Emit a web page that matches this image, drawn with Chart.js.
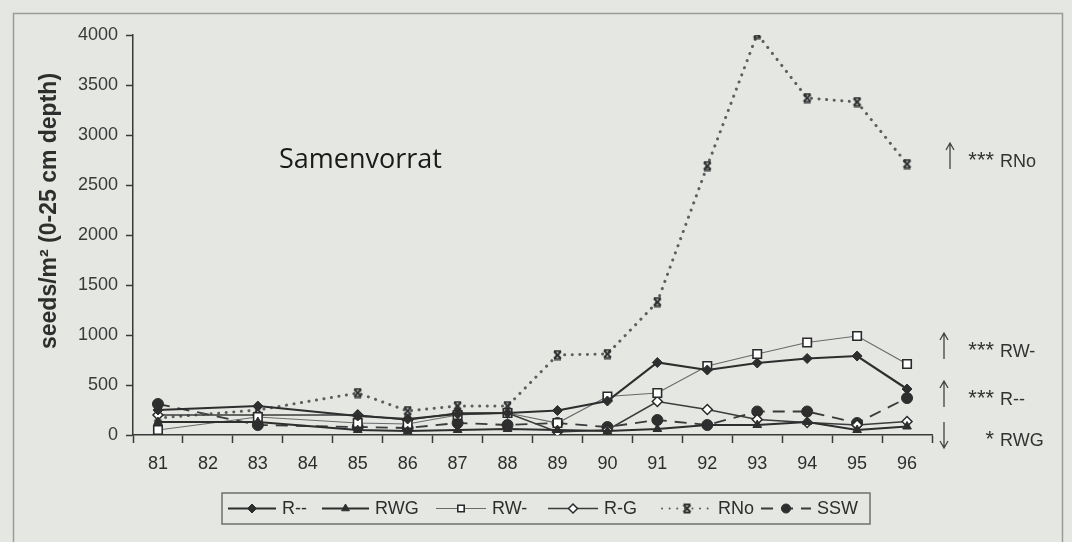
<!DOCTYPE html>
<html>
<head>
<meta charset="utf-8">
<script src="https://cdn.jsdelivr.net/npm/chart.js"></script>
<style>
  html, body { margin: 0; padding: 0; background: #e4e7e2; }
  #grafico { display: block; }
</style>
</head>
<body>
<canvas id="grafico" width="1072" height="542"></canvas>
<script>
// anos de amostragem (82 e 84 sem coleta)
const years = ['81', '82', '83', '84', '85', '86', '87', '88', '89', '90', '91', '92', '93', '94', '95', '96'];

const seriesR = [250, null, 290, null, 190, 160, 210, 220, 245, 340, 725, 650, 720, 765, 790, 460];
const seriesRWG = [130, null, 130, null, 50, 40, 50, 60, 50, 40, 60, 100, 100, 130, 50, 85];
const seriesRW = [50, null, 180, null, 120, 110, 200, 220, 120, 385, 420, 690, 810, 925, 990, 710];
const seriesRG = [200, null, 200, null, 200, 150, 220, 220, 30, 50, 335, 255, 155, 125, 100, 135];
const seriesRNo = [170, null, 250, null, 420, 240, 290, 290, 800, 810, 1330, 2690, 4010, 3370, 3330, 2710];
const seriesSSW = [310, null, 100, null, 80, 70, 120, 100, 120, 80, 150, 100, 235, 235, 120, 370];

const yTicksMax = 4000;
const yTicksStep = 500;

const fontSans = '"Liberation Sans", Arial, sans-serif';
const ink = '#2e2e2e';

// marcador do RNo: um "x" com barrinhas em cima e embaixo
function makeRNoMarker() {
  let c = document.createElement('canvas');
  c.width = 11;
  c.height = 11;
  let g = c.getContext('2d');
  g.strokeStyle = '#303030';
  g.lineWidth = 2;
  g.beginPath();
  g.moveTo(2, 2); g.lineTo(9, 9);
  g.moveTo(9, 2); g.lineTo(2, 9);
  g.moveTo(2, 1.5); g.lineTo(9, 1.5);
  g.moveTo(2, 9.5); g.lineTo(9, 9.5);
  g.stroke();
  return c;
}

const rnoMarker = makeRNoMarker();

function serie(label, data, opts) {
  return Object.assign({
    label: label,
    data: data,
    spanGaps: true,
    fill: false,
    tension: 0,
    borderColor: ink,
    pointBorderColor: ink,
    pointBackgroundColor: ink,
    borderWidth: 2,
    pointBorderWidth: 1,
    pointRadius: 4,
    pointHoverRadius: 4
  }, opts);
}

let dados = {
  labels: years,
  datasets: [
    serie('R--', seriesR, { borderWidth: 2.2, pointStyle: 'rectRot', pointRadius: 5 }),
    serie('RWG', seriesRWG, { borderWidth: 1.8, pointStyle: 'triangle', pointRadius: 5 }),
    serie('RW-', seriesRW, {
      borderColor: '#6a6a6a', borderWidth: 1.2,
      pointStyle: 'rect', pointRadius: 6, pointBackgroundColor: '#ffffff', pointBorderColor: '#2a2a2a', pointBorderWidth: 1.6
    }),
    serie('R-G', seriesRG, {
      borderColor: '#3c3c3c', borderWidth: 1.6,
      pointStyle: 'rectRot', pointRadius: 5, pointBackgroundColor: '#ffffff', pointBorderColor: '#2a2a2a', pointBorderWidth: 1.5
    }),
    serie('RNo', seriesRNo, {
      borderColor: '#5e5e5e', borderWidth: 3, borderDash: [0.1, 7.5], borderCapStyle: 'round',
      pointStyle: rnoMarker
    }),
    serie('SSW', seriesSSW, {
      borderColor: '#3a3a3a', borderWidth: 1.8, borderDash: [12, 8],
      pointStyle: 'circle', pointRadius: 5.5
    })
  ]
};

// posicoes dos itens da legenda: inicio da linha e inicio do texto
const legendSlots = [[228, 282], [322, 375], [436, 492], [548, 604], [662, 718], [761, 817]];

// fundo, moldura, titulo do eixo y, textos e legenda desenhados a mao
const extras = {
  id: 'extras',
  beforeDraw(chart) {
    const ctx = chart.ctx;
    ctx.save();
    ctx.fillStyle = '#e4e7e2';
    ctx.fillRect(0, 0, chart.width, chart.height);
    ctx.strokeStyle = '#9a9c98';
    ctx.lineWidth = 1.5;
    ctx.strokeRect(13.5, 13.5, 1049, 540);
    ctx.restore();
  },
  afterDraw(chart) {
    const ctx = chart.ctx;
    ctx.save();

    // titulo do eixo y
    ctx.translate(50, 211);
    ctx.rotate(-Math.PI / 2);
    ctx.fillStyle = ink;
    ctx.font = 'bold 23px ' + fontSans;
    ctx.textAlign = 'center';
    ctx.textBaseline = 'middle';
    ctx.fillText('seeds/m² (0-25 cm depth)', 0, 0);
    ctx.setTransform(1, 0, 0, 1, 0, 0);

    ctx.font = '27px "Open Sans", sans-serif';
    ctx.fillStyle = '#1a1a1a';
    ctx.textAlign = 'left';
    ctx.fillText('Samenvorrat', 279, 160);

    // tendencias a direita
    const notas = [
      { up: true, stars: '***', txt: 'RNo', y: 157, ax: 950 },
      { up: true, stars: '***', txt: 'RW-', y: 347, ax: 944 },
      { up: true, stars: '***', txt: 'R--', y: 395, ax: 944 },
      { up: false, stars: '*', txt: 'RWG', y: 436, ax: 944 }
    ];
    ctx.strokeStyle = '#444';
    ctx.fillStyle = '#333';
    ctx.lineWidth = 1.3;
    notas.forEach(function (n) {
      let ax = n.ax;
      let top = n.y - 14, bot = n.y + 12;
      ctx.beginPath();
      ctx.moveTo(ax, top); ctx.lineTo(ax, bot);
      if (n.up) {
        ctx.moveTo(ax - 4, top + 7); ctx.lineTo(ax, top); ctx.lineTo(ax + 4, top + 7);
      } else {
        ctx.moveTo(ax - 4, bot - 7); ctx.lineTo(ax, bot); ctx.lineTo(ax + 4, bot - 7);
      }
      ctx.stroke();
      ctx.font = '22px ' + fontSans;
      ctx.textAlign = 'right';
      ctx.fillText(n.stars, 994, n.y + 4);
      ctx.font = '18px ' + fontSans;
      ctx.textAlign = 'left';
      ctx.fillText(n.txt, 1000, n.y + 5);
    });

    // legenda com linha + marcador
    let bx = 222, by = 493, bw = 648, bh = 31;
    ctx.strokeStyle = '#6e706c';
    ctx.lineWidth = 1.5;
    ctx.strokeRect(bx, by, bw, bh);
    ctx.font = '18px ' + fontSans;
    ctx.textBaseline = 'middle';
    ctx.textAlign = 'left';
    let y = by + bh / 2;
    chart.data.datasets.forEach(function (ds, i) {
      let x = legendSlots[i][0];
      let tx = legendSlots[i][1];
      let len = tx - x - 6;
      ctx.save();
      ctx.strokeStyle = ds.borderColor;
      ctx.lineWidth = Math.min(ds.borderWidth, 2);
      ctx.setLineDash(ds.borderDash || []);
      ctx.lineCap = ds.borderCapStyle || 'butt';
      ctx.beginPath();
      ctx.moveTo(x, y); ctx.lineTo(x + len, y);
      ctx.stroke();
      ctx.setLineDash([]);
      ctx.fillStyle = ds.pointBackgroundColor;
      ctx.strokeStyle = ds.pointBorderColor;
      ctx.lineWidth = ds.pointBorderWidth;
      Chart.helpers.drawPoint(ctx, {
        pointStyle: ds.pointStyle,
        radius: Math.min(ds.pointRadius, 4.5),
        borderWidth: ds.pointBorderWidth,
        rotation: 0
      }, x + len / 2, y);
      ctx.restore();
      ctx.fillStyle = ink;
      ctx.fillText(ds.label, tx, y + 1);
    });

    ctx.restore();
  }
};

const config = {
  type: 'line',
  data: dados,
  plugins: [extras],
  options: {
    responsive: false,
    animation: false,
    devicePixelRatio: 1,
    layout: {
      padding: { left: 0, right: 140, top: 35, bottom: 0 }
    },
    plugins: {
      legend: { display: false },
      tooltip: { enabled: false }
    },
    scales: {
      x: {
        type: 'category',
        offset: true,
        afterFit: function (scale) { scale.height = 107; },
        grid: {
          offset: true,
          drawOnChartArea: false,
          drawTicks: true,
          tickLength: 8,
          tickWidth: 1.5,
          color: '#3a3a3a'
        },
        border: { color: '#3a3a3a', width: 1.5 },
        ticks: {
          color: ink,
          padding: 10,
          maxRotation: 0,
          autoSkip: false,
          font: { family: fontSans, size: 18 }
        }
      },
      y: {
        min: 0,
        max: yTicksMax,
        afterFit: function (scale) { scale.width = 133; },
        grid: {
          drawOnChartArea: false,
          drawTicks: true,
          tickLength: 7,
          tickWidth: 1.5,
          color: '#3a3a3a'
        },
        border: { color: '#3a3a3a', width: 1.5 },
        ticks: {
          stepSize: yTicksStep,
          color: '#3a3a3a',
          padding: 8,
          format: { useGrouping: false },
          font: { family: fontSans, size: 18 }
        }
      }
    }
  }
};

let myChart = new Chart(document.getElementById('grafico'), config);
</script>
</body>
</html>
